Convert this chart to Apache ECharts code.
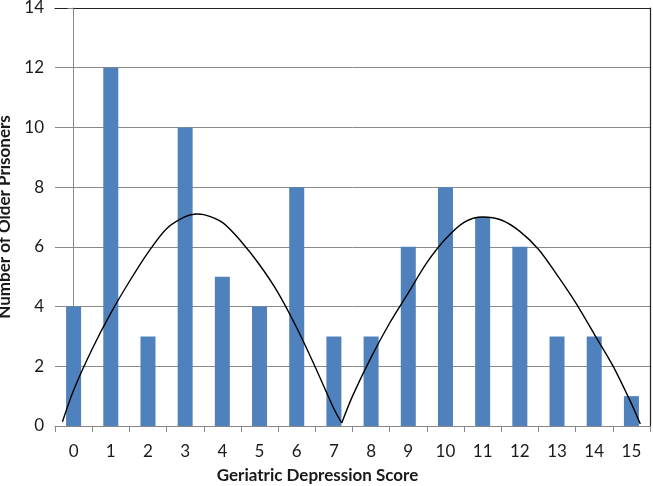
<!DOCTYPE html>
<html>
<head>
<meta charset="utf-8">
<script src="https://cdn.jsdelivr.net/npm/echarts@6/dist/echarts.min.js"></script>
<style>html,body{margin:0;padding:0;background:#fff;}#c{width:653px;height:486px;}</style>
</head>
<body>
<div id="c"></div>
<script>
var categories = ['0','1','2','3','4','5','6','7','8','9','10','11','12','13','14','15'];
var counts = [4, 12, 3, 10, 5, 4, 8, 3, 3, 6, 8, 7, 6, 3, 3, 1];
var yTicks = [0, 2, 4, 6, 8, 10, 12, 14];
// Trend curve points (x in category units, y in counts)
var arch1X = [-0.30, 0.0, 0.5, 1.0, 1.5, 2.0, 2.5, 3.0, 3.3, 3.5, 4.0, 4.5, 5.0, 5.5, 6.0, 6.5, 7.0, 7.21];
var arch1Y = [0.14, 1.20, 2.58, 3.78, 4.84, 5.81, 6.61, 7.01, 7.10, 7.08, 6.82, 6.19, 5.40, 4.46, 3.29, 1.97, 0.58, 0.10];
var arch2X = [7.21, 7.5, 8.0, 8.5, 9.0, 9.5, 10.0, 10.5, 11.0, 11.5, 12.0, 12.5, 13.0, 13.5, 14.0, 14.5, 15.0, 15.24];
var arch2Y = [0.10, 1.00, 2.30, 3.45, 4.46, 5.47, 6.26, 6.82, 7.00, 6.90, 6.52, 5.92, 5.06, 4.13, 3.08, 2.02, 0.75, 0.07];

function pairs(xs, ys) { return xs.map(function (x, i) { return [x, ys[i]]; }); }

var font = 'Lato, "Open Sans", sans-serif';
var chart = echarts.init(document.getElementById('c'), null, {renderer: 'canvas'});
chart.setOption({
  animation: false,
  grid: {left: 55, right: 3, top: 8, bottom: 60, containLabel: false, outerBoundsMode: 'none'},
  xAxis: [{
    type: 'category', data: categories, boundaryGap: true,
    name: 'Geriatric Depression Score', nameLocation: 'middle', nameGap: 41,
    nameTextStyle: {fontFamily: font, fontWeight: 'bold', fontSize: 17, color: '#1a1a1a', padding: [0, 70, 0, 0]},
    axisLine: {lineStyle: {color: '#888', width: 1}},
    axisTick: {show: true, alignWithLabel: false, length: 6, lineStyle: {color: '#888'}},
    axisLabel: {fontFamily: font, fontSize: 17, color: '#1a1a1a', margin: 17, interval: 0}
  }, {
    type: 'value', min: -0.5, max: 15.5, position: 'top',
    axisLine: {show: true, onZero: false, lineStyle: {color: '#222', width: 1.2}},
    axisTick: {show: false}, axisLabel: {show: false}, splitLine: {show: false}
  }],
  yAxis: [{
    type: 'value', min: yTicks[0], max: yTicks[yTicks.length - 1], interval: 2,
    name: 'Number of Older Prisoners', nameLocation: 'middle', nameGap: 38,
    nameTextStyle: {fontFamily: font, fontWeight: 'bold', fontSize: 17, color: '#1a1a1a'},
    axisLine: {show: true, lineStyle: {color: '#888', width: 1}},
    axisTick: {show: true, length: 6, lineStyle: {color: '#888'}},
    axisLabel: {fontFamily: font, fontSize: 17, color: '#1a1a1a', margin: 11},
    splitLine: {show: true, lineStyle: {color: '#8a8a8a', width: 1}}
  }, {
    type: 'value', min: yTicks[0], max: yTicks[yTicks.length - 1], position: 'right',
    axisLine: {show: true, onZero: false, lineStyle: {color: '#222', width: 1.2}},
    axisTick: {show: false}, axisLabel: {show: false}, splitLine: {show: false}
  }],
  series: [{
    type: 'bar', data: counts, barWidth: 15,
    itemStyle: {color: '#4F81BD'}
  }, {
    type: 'line', xAxisIndex: 1, data: pairs(arch1X, arch1Y), smooth: 0.3,
    symbol: 'none', lineStyle: {color: '#000', width: 1.4}
  }, {
    type: 'line', xAxisIndex: 1, data: pairs(arch2X, arch2Y), smooth: 0.3,
    symbol: 'none', lineStyle: {color: '#000', width: 1.4}
  }]
});
</script>
</body>
</html>
